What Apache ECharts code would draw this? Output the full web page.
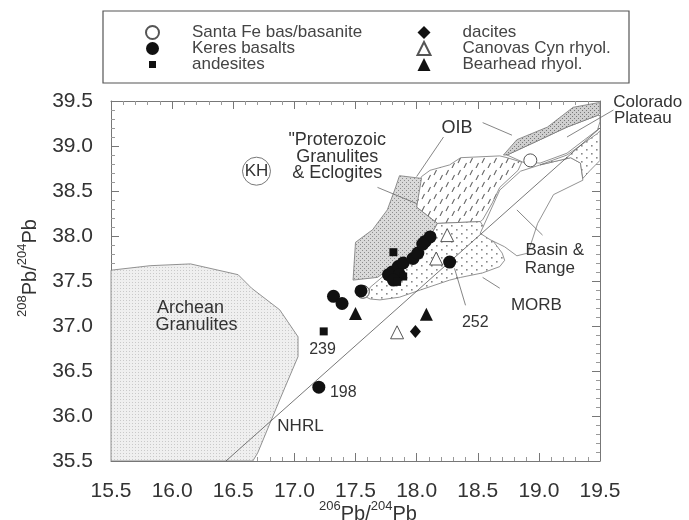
<!DOCTYPE html>
<html>
<head>
<meta charset="utf-8">
<script src="https://cdn.jsdelivr.net/npm/echarts@6/dist/echarts.min.js"></script>
<style>
html, body { margin: 0; padding: 0; background: #fff; }
#chart { width: 689px; height: 520px; }
</style>
</head>
<body>
<div id="chart"></div>
<script>
// samples: [206Pb/204Pb, 208Pb/204Pb]
var santaFe = [[18.93, 38.84], [17.56, 37.38]];
var keres = [[17.20, 36.32], [18.27, 37.71], [17.32, 37.33], [17.39, 37.25], [17.545, 37.39],
  [17.80, 37.60], [17.85, 37.66], [17.89, 37.70], [17.82, 37.55], [17.77, 37.57], [17.86, 37.57],
  [17.81, 37.51], [17.97, 37.75], [18.01, 37.81], [18.07, 37.94], [18.11, 37.99], [18.05, 37.91]];
var andesites = [[17.24, 36.94], [17.81, 37.82], [17.89, 37.55], [17.84, 37.49]];
var dacites = [[17.99, 36.94]];
var canovas = [[17.84, 36.93], [18.25, 38.01], [18.16, 37.75]];
var bearhead = [[17.50, 37.14], [18.08, 37.13]];

// reference fields (outlines)
var archean = [[15.50, 37.62], [15.82, 37.67], [16.15, 37.69], [16.54, 37.57], [16.65, 37.42],
  [16.88, 37.18], [17.03, 36.88], [17.03, 36.66], [16.88, 36.18], [16.70, 35.59], [16.66, 35.50], [15.50, 35.50]];
var proterozoic = [[17.86, 38.67], [18.04, 38.64], [18.00, 38.32], [18.17, 38.14], [18.11, 37.99],
  [17.97, 37.77], [17.76, 37.62], [17.68, 37.54], [17.48, 37.51], [17.50, 37.93], [17.64, 38.07],
  [17.76, 38.29], [17.82, 38.51]];
var morb = [[17.59, 37.32], [17.62, 37.43], [17.76, 37.59], [17.97, 37.77], [18.11, 37.99], [18.17, 38.14],
  [18.52, 38.16], [18.60, 37.99], [18.70, 37.81], [18.72, 37.73], [18.68, 37.66], [18.54, 37.59],
  [18.36, 37.54], [18.27, 37.51], [18.03, 37.40], [17.86, 37.32], [17.70, 37.29], [17.62, 37.30]];
var oib = [[18.04, 38.66], [18.11, 38.73], [18.27, 38.79], [18.36, 38.87], [18.68, 38.89], [18.74, 38.87],
  [18.86, 38.82], [18.83, 38.73], [18.68, 38.54], [18.62, 38.37], [18.54, 38.18], [18.52, 38.16],
  [18.17, 38.14], [18.00, 38.32], [18.00, 38.51]];
var basinRange = [[18.52, 38.03], [18.68, 38.51], [18.85, 38.72], [19.01, 38.79], [19.26, 38.87],
  [19.34, 38.81], [19.36, 38.62], [19.12, 38.46], [18.99, 38.14], [18.91, 37.81], [18.82, 37.78],
  [18.72, 37.88], [18.60, 37.96]];
var dottedEdge = [[19.01, 38.79], [19.23, 38.90], [19.48, 39.14], [19.50, 39.17], [19.50, 38.84],
  [19.42, 38.73], [19.36, 38.64], [19.34, 38.81], [19.26, 38.87]];
var coloradoBand = [[18.71, 38.90], [18.82, 39.07], [19.07, 39.21], [19.28, 39.43], [19.48, 39.48],
  [19.50, 39.48], [19.50, 39.37], [19.48, 39.34], [19.23, 39.21], [19.01, 39.07], [18.74, 38.90]];
var coloradoField = [[18.74, 38.90], [19.01, 39.07], [19.23, 39.21], [19.48, 39.34], [19.50, 39.34],
  [19.50, 39.27], [19.48, 39.18], [19.23, 38.92], [19.01, 38.81], [18.87, 38.82]];

// Northern Hemisphere reference line
var nhrl = [[16.44, 35.50], [19.50, 39.20]];

// leader lines [x1, y1, x2, y2]
var leaders = [[18.00, 38.66, 18.22, 39.10], [18.54, 39.26, 18.78, 39.12], [19.61, 39.40, 19.23, 39.10],
  [17.68, 38.54, 18.00, 38.36], [18.54, 37.54, 18.68, 37.42], [18.82, 38.29, 19.03, 38.01],
  [18.31, 37.64, 18.40, 37.23]];

var sampleLabels = [[17.40, 36.26, '198'], [17.23, 36.74, '239'], [18.48, 37.04, '252']];
var fieldLabels = [[17.05, 35.89, 'NHRL'], [18.98, 37.23, 'MORB'], [19.13, 37.84, 'Basin &'],
  [19.09, 37.64, 'Range'], [19.89, 39.49, 'Colorado'], [19.85, 39.31, 'Plateau']];
var bigLabels = [[16.15, 37.20, 'Archean'], [16.20, 37.01, 'Granulites'], [17.35, 39.07, '"Proterozoic'],
  [17.35, 38.88, 'Granulites'], [17.35, 38.70, '& Eclogites'], [18.33, 39.20, 'OIB']];
var kh = [16.69, 38.72];

var FONT = '"Liberation Sans", Arial, Helvetica, sans-serif';

function pattern(w, h, bg, draw) {
  var c = document.createElement('canvas');
  c.width = w; c.height = h;
  var ctx = c.getContext('2d');
  ctx.fillStyle = bg;
  ctx.fillRect(0, 0, w, h);
  draw(ctx);
  return { image: c, repeat: 'repeat' };
}
function dots(color, list, s) {
  return function (ctx) {
    ctx.fillStyle = color;
    list.forEach(function (p) { ctx.fillRect(p[0], p[1], s, s); });
  };
}
var lightStipple = pattern(3, 3, '#efefef', dots('#c9c9c9', [[0, 0]], 1));
var darkStipple = pattern(4, 4, '#d9d9d9', dots('#8c8c8c', [[0, 0], [2, 2]], 1));
var bandStipple = pattern(4, 4, '#cfcfcf', dots('#777', [[0, 0], [2, 2]], 1));
var sparseDots = pattern(10, 8, '#ffffff', dots('#888', [[1, 1], [6, 5]], 1.6));
var dashes = pattern(12, 12, '#ffffff', function (ctx) {
  ctx.strokeStyle = '#666';
  ctx.lineWidth = 1.1;
  ctx.beginPath();
  ctx.moveTo(2, 7); ctx.lineTo(4.5, 2);
  ctx.moveTo(8, 12); ctx.lineTo(10.5, 7);
  ctx.stroke();
});

function field(name, pts, fill) {
  return {
    type: 'custom', name: name, coordinateSystem: 'cartesian2d', silent: true, z: 1,
    data: [pts[0]],
    renderItem: function (params, api) {
      return {
        type: 'polygon',
        shape: { points: pts.map(function (p) { return api.coord(p); }) },
        style: { fill: fill, stroke: '#777', lineWidth: 0.8 }
      };
    }
  };
}
function labels(name, list, size, color) {
  return {
    type: 'custom', name: name, coordinateSystem: 'cartesian2d', silent: true, z: 4,
    data: list,
    renderItem: function (params, api) {
      var p = api.coord([api.value(0), api.value(1)]);
      return {
        type: 'text', x: p[0], y: p[1],
        style: { text: list[params.dataIndex][2], fill: color, font: size + 'px ' + FONT,
          align: 'center', verticalAlign: 'middle' }
      };
    }
  };
}

var sq = 'path://M0,0L0,0M13,13L13,13M3,3L10,3L10,10L3,10Z';

function legendCol(left, textGap, names) {
  return {
    orient: 'vertical', left: left, top: 24, padding: 0, itemWidth: 13, itemHeight: 13, itemGap: -1,
    selectedMode: false,
    textStyle: { fontSize: 17, fontFamily: FONT, color: '#444', padding: [0, 0, 0, textGap] },
    data: names
  };
}

var option = {
  animation: false,
  grid: { left: 111, top: 101, width: 489, height: 360 },
  legend: [
    legendCol(145, 28, [{ name: 'Santa Fe bas/basanite', icon: 'circle' }, { name: 'Keres basalts', icon: 'circle' },
      { name: 'andesites', icon: sq }]),
    legendCol(416.5, 27, [{ name: 'dacites', icon: 'diamond' }, { name: 'Canovas Cyn rhyol.', icon: 'triangle' },
      { name: 'Bearhead rhyol.', icon: 'triangle' }])
  ],
  xAxis: [0, 1].map(function (i) {
    return {
      type: 'value', min: 15.5, max: 19.5, interval: 0.5, position: i ? 'top' : 'bottom',
      splitLine: { show: false },
      axisLine: { lineStyle: { color: '#777', width: 1 } },
      axisTick: { inside: true, length: 8, lineStyle: { color: '#777' } },
      minorTick: { show: true, splitNumber: 5, length: 4, lineStyle: { color: '#999' } },
      axisLabel: { show: !i, margin: 20, fontSize: 21, fontFamily: FONT, color: '#333',
        formatter: function (v) { return v.toFixed(1); } }
    };
  }),
  yAxis: [0, 1].map(function (i) {
    return {
      type: 'value', min: 35.5, max: 39.5, interval: 0.5, position: i ? 'right' : 'left',
      splitLine: { show: false },
      axisLine: { lineStyle: { color: '#777', width: 1 } },
      axisTick: { inside: true, length: 8, lineStyle: { color: '#777' } },
      minorTick: { show: true, splitNumber: 5, length: 4, lineStyle: { color: '#999' } },
      axisLabel: { show: !i, margin: 18, fontSize: 21, fontFamily: FONT, color: '#333',
        formatter: function (v) { return v.toFixed(1); } }
    };
  }),
  graphic: [
    { type: 'rect', shape: { x: 103, y: 11, width: 526, height: 72 },
      style: { fill: 'none', stroke: '#555', lineWidth: 1.2 } },
    { type: 'text', x: 28, y: 268, rotation: Math.PI / 2,
      style: { text: '{s|208}{b|Pb/}{s|204}{b|Pb}', align: 'center', verticalAlign: 'middle',
        rich: { s: { fontSize: 13, fontFamily: FONT, fill: '#333', verticalAlign: 'top', lineHeight: 24 },
          b: { fontSize: 20, fontFamily: FONT, fill: '#333', verticalAlign: 'bottom', lineHeight: 24 } } } },
    { type: 'text', x: 368, y: 512,
      style: { text: '{s|206}{b|Pb/}{s|204}{b|Pb}', align: 'center', verticalAlign: 'middle',
        rich: { s: { fontSize: 13, fontFamily: FONT, fill: '#333', verticalAlign: 'top', lineHeight: 24 },
          b: { fontSize: 20, fontFamily: FONT, fill: '#333', verticalAlign: 'bottom', lineHeight: 24 } } } }
  ],
  series: [
    field('Archean Granulites', archean, lightStipple),
    field('OIB', oib, dashes),
    field('Proterozoic', proterozoic, darkStipple),
    field('MORB', morb, sparseDots),
    field('Basin & Range', basinRange, '#fff'),
    field('edge', dottedEdge, sparseDots),
    field('Colorado Plateau', coloradoField, '#fff'),
    field('Colorado band', coloradoBand, bandStipple),
    { type: 'line', name: 'NHRL', data: nhrl, symbol: 'none', silent: true, z: 2,
      lineStyle: { color: '#555', width: 0.8 } },
    { type: 'custom', name: 'leaders', coordinateSystem: 'cartesian2d', silent: true, z: 2,
      data: leaders,
      renderItem: function (params, api) {
        var a = api.coord([api.value(0), api.value(1)]);
        var b = api.coord([api.value(2), api.value(3)]);
        return { type: 'line', shape: { x1: a[0], y1: a[1], x2: b[0], y2: b[1] },
          style: { stroke: '#666', lineWidth: 0.8 } };
      } },
    { type: 'custom', name: 'KH', coordinateSystem: 'cartesian2d', silent: true, z: 4,
      data: [kh],
      renderItem: function (params, api) {
        var p = api.coord([api.value(0), api.value(1)]);
        return { type: 'group', children: [
          { type: 'circle', shape: { cx: p[0], cy: p[1], r: 14 }, style: { fill: '#fff', stroke: '#777', lineWidth: 1 } },
          { type: 'text', x: p[0], y: p[1], style: { text: 'KH', font: '17px ' + FONT, fill: '#333',
            align: 'center', verticalAlign: 'middle' } }
        ] };
      } },
    labels('sampleLabels', sampleLabels, 16, '#333'),
    labels('fieldLabels', fieldLabels, 17, '#333'),
    labels('bigLabels', bigLabels, 18, '#333'),
    { type: 'scatter', name: 'Santa Fe bas/basanite', data: santaFe, symbol: 'circle', symbolSize: 13, z: 3,
      itemStyle: { color: '#fff', borderColor: '#555', borderWidth: 1, opacity: 1 } },
    { type: 'scatter', name: 'Keres basalts', data: keres, symbol: 'circle', symbolSize: 13, z: 3,
      itemStyle: { color: '#111', opacity: 1 } },
    { type: 'scatter', name: 'andesites', data: andesites, symbol: 'rect', symbolSize: 8, z: 3,
      itemStyle: { color: '#111', opacity: 1 } },
    { type: 'scatter', name: 'dacites', data: dacites, symbol: 'diamond', symbolSize: [11, 13], z: 3,
      itemStyle: { color: '#111', opacity: 1 } },
    { type: 'scatter', name: 'Canovas Cyn rhyol.', data: canovas, symbol: 'triangle', symbolSize: 13, z: 3,
      itemStyle: { color: '#fff', borderColor: '#555', borderWidth: 1, opacity: 1 } },
    { type: 'scatter', name: 'Bearhead rhyol.', data: bearhead, symbol: 'triangle', symbolSize: 13, z: 3,
      itemStyle: { color: '#111', opacity: 1 } }
  ]
};

var chart = echarts.init(document.getElementById('chart'), null, { renderer: 'canvas' });
chart.setOption(option);
</script>
</body>
</html>
